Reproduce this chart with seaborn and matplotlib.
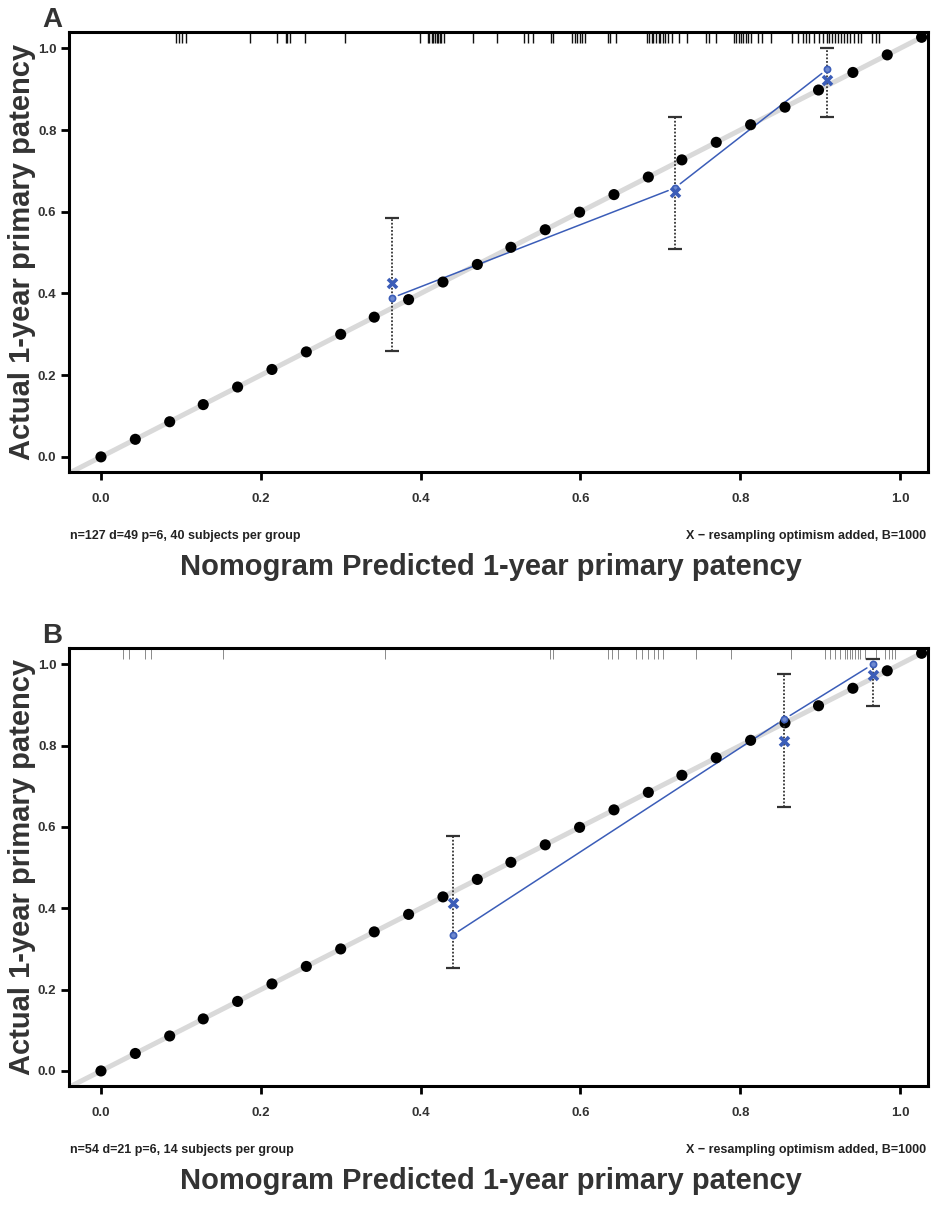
import numpy as np
import seaborn as sns
import matplotlib
matplotlib.use('Agg')
import matplotlib.pyplot as plt

## ideal-line markers (same in both panels)
ideal_pts = [0.000, 0.043, 0.086, 0.128, 0.171, 0.214, 0.257, 0.300, 0.342,
             0.385, 0.428, 0.471, 0.513, 0.556, 0.599, 0.642, 0.685, 0.727,
             0.770, 0.813, 0.856, 0.898, 0.941, 0.984, 1.027]

ticks = [0.0, 0.2, 0.4, 0.6, 0.8, 1.0]
tick_labels = ['0.0', '0.2', '0.4', '0.6', '0.8', '1.0']

## panel A
pred_A = [0.364, 0.718, 0.909]
obs_A = [0.389, 0.658, 0.949]
corr_A = [0.425, 0.648, 0.922]
lo_A = [0.259, 0.509, 0.831]
hi_A = [0.584, 0.831, 1.000]
rug_A = [0.094, 0.0975, 0.101, 0.106, 0.187, 0.220, 0.231, 0.233, 0.236, 0.255,
         0.306, 0.399, 0.409, 0.411, 0.414, 0.416, 0.418, 0.420, 0.422, 0.424,
         0.426, 0.429, 0.465, 0.496, 0.529, 0.534, 0.541, 0.563, 0.566, 0.589,
         0.593, 0.596, 0.599, 0.602, 0.606, 0.634, 0.637, 0.645, 0.683, 0.686,
         0.689, 0.691, 0.695, 0.698, 0.700, 0.703, 0.706, 0.709, 0.715, 0.723,
         0.734, 0.757, 0.761, 0.770, 0.7925, 0.795, 0.798, 0.801, 0.804, 0.807,
         0.810, 0.813, 0.822, 0.827, 0.838, 0.865, 0.872, 0.878, 0.882, 0.886,
         0.8925, 0.898, 0.903, 0.908, 0.911, 0.915, 0.919, 0.922, 0.926, 0.930,
         0.934, 0.938, 0.9425, 0.947, 0.951, 0.965, 0.970, 0.974]
note_A = 'n=127 d=49 p=6, 40 subjects per group'

## panel B
pred_B = [0.440, 0.855, 0.966]
obs_B = [0.334, 0.865, 1.000]
corr_B = [0.413, 0.811, 0.973]
lo_B = [0.253, 0.649, 0.897]
hi_B = [0.577, 0.975, 1.012]
rug_B = [0.027, 0.035, 0.055, 0.063, 0.153, 0.356, 0.5625, 0.566, 0.634, 0.640,
         0.647, 0.670, 0.677, 0.684, 0.692, 0.697, 0.703, 0.745, 0.788, 0.863,
         0.906, 0.912, 0.918, 0.925, 0.931, 0.934, 0.937, 0.940, 0.944, 0.947,
         0.950, 0.956, 0.9695, 0.981, 0.986, 0.990, 0.994]
note_B = 'n=54 d=21 p=6, 14 subjects per group'

note_right = 'X \u2212 resampling optimism added, B=1000'
xlab = 'Nomogram Predicted 1-year primary patency'
ylab = 'Actual 1-year primary patency'

sns.set_theme(style='white')
plt.rcParams['font.family'] = ['Liberation Sans', 'DejaVu Sans']
plt.rcParams['font.weight'] = 'bold'

W, H = 934, 1206
fig = plt.figure(figsize=(W / 100, H / 100), dpi=100)

BLUE = '#3b5db8'
TXT = '#333333'


def px(x, y):
    return x / W, 1 - y / H


def gapped_line(ax, xs, ys, gap=7, **kw):
    # R type="b": leave a gap round each point
    tr = ax.transData
    pts = tr.transform(np.column_stack([xs, ys]))
    for p, q in zip(pts[:-1], pts[1:]):
        u = (q - p) / np.hypot(*(q - p))
        a, b = tr.inverted().transform([p + u * gap, q - u * gap])
        ax.plot([a[0], b[0]], [a[1], b[1]], **kw)


def panel(top, bottom, letter, pred, obs, corr, lo, hi, rug, rug_col, rug_lw, note):
    l, r = 69, 928
    ax = fig.add_axes([l / W, 1 - bottom / H, (r - l) / W, (bottom - top) / H])
    ax.set_xlim(-0.04, 1.035)
    ax.set_ylim(-0.037, 1.04)

    lim = np.array(ax.get_xlim()) + [-0.05, 0.05]
    sns.lineplot(ax=ax, x=lim, y=lim, color='#d9d9d9', lw=3.6, zorder=1)

    gapped_line(ax, pred, obs, color=BLUE, lw=1.1, zorder=2)

    sns.scatterplot(ax=ax, x=ideal_pts, y=ideal_pts, color='black', s=64,
                    edgecolor='none', zorder=3, clip_on=False)

    yerr = [np.array(obs) - np.array(lo), np.array(hi) - np.array(obs)]
    eb = ax.errorbar(pred, obs, yerr=yerr, fmt='none', ecolor='#333333',
                     elinewidth=1.3, capsize=5, capthick=1.6, zorder=4)
    eb[2][0].set_linestyle((0, (1, 1)))
    for c in eb[1]:
        c.set_color('#555555')

    sns.scatterplot(ax=ax, x=pred, y=obs, color='#6f8ad0', s=20, edgecolor=BLUE,
                    linewidth=1.2, zorder=5)
    sns.scatterplot(ax=ax, x=pred, y=corr, color=BLUE, s=42, marker='x',
                    linewidth=2.6, zorder=5)

    ax.vlines(rug, 0.974, 1.0, transform=ax.get_xaxis_transform(),
              color=rug_col, lw=rug_lw, zorder=2)

    for s in ax.spines.values():
        s.set_linewidth(2.2)
        s.set_color('black')
    ax.set_xticks(ticks, tick_labels)
    ax.set_yticks(ticks, tick_labels)
    ax.tick_params(axis='both', direction='out', length=6, width=2,
                   color='black', labelsize=9.5, labelcolor=TXT,
                   bottom=True, left=True)
    ax.tick_params(axis='x', pad=9)
    ax.tick_params(axis='y', pad=3)
    ax.set_xlabel('')
    ax.set_ylabel('')

    fig.text(*px(l + 1, bottom + 64), note, ha='left', va='center',
             fontsize=9, fontweight='bold', color='#222222')
    fig.text(*px(r - 2, bottom + 64), note_right, ha='right', va='center',
             fontsize=9, fontweight='bold', color='#222222')
    fig.text(*px((l + r) / 2 - 8, bottom + 95), xlab, ha='center', va='center',
             fontsize=21, fontweight='bold', color=TXT)
    fig.text(*px(22, (top + bottom) / 2), ylab, ha='center', va='center',
             rotation=90, fontsize=21, fontweight='bold', color=TXT)
    fig.text(*px(42, top - 5), letter, ha='left', va='baseline',
             fontsize=20, fontweight='bold', color=TXT)
    return ax


panel(32, 472, 'A', pred_A, obs_A, corr_A, lo_A, hi_A, rug_A, '#111111', 1.0, note_A)
panel(648, 1086, 'B', pred_B, obs_B, corr_B, lo_B, hi_B, rug_B, '#777777', 0.6, note_B)

fig.savefig('out.png', dpi=100)
